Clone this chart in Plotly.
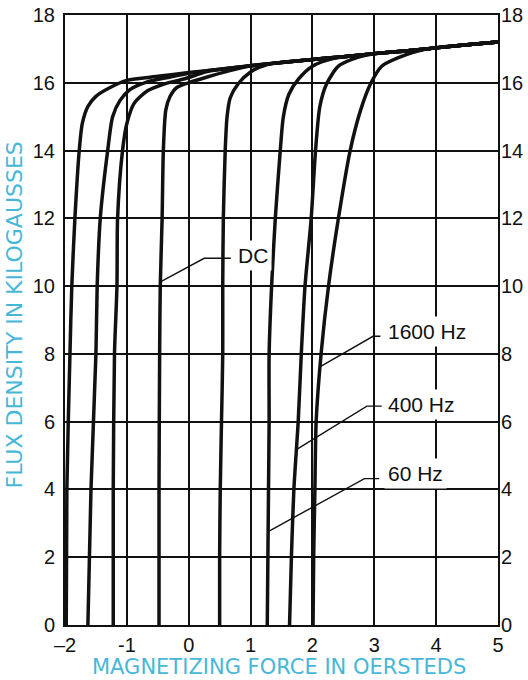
import plotly.graph_objects as go

# ---------------- data ----------------
# shared upper envelope (saturation line) all curves merge into
ENV_X = [-1.0, -0.5, 0.0, 0.5, 1.0, 1.5, 2.0, 2.5, 3.0, 3.5, 4.0, 4.5, 5.0]
ENV_Y = [16.07, 16.19, 16.3, 16.4, 16.5, 16.6, 16.69, 16.77, 16.86, 16.94, 17.03, 17.12, 17.2]

# left (descending) branches
L1600_X = [-1.98, -1.97, -1.92, -1.89, -1.84, -1.77, -1.72, -1.63, -1.5, -1.27, -1.0]
L1600_Y = [0, 4, 8, 10, 12, 14, 14.8, 15.3, 15.6, 15.86, 16.07]

L400_X = [-1.63, -1.58, -1.50, -1.48, -1.43, -1.31, -1.23, -1.11, -0.95, -0.68, -0.3, 0.0]
L400_Y = [0, 4, 8, 10, 12, 14, 15.0, 15.48, 15.8, 16.02, 16.17, 16.28]

L60_X = [-1.22, -1.22, -1.20, -1.16, -1.15, -1.07, -1.0, -0.88, -0.66, -0.39, -0.06, 0.3]
L60_Y = [0, 4, 8, 10, 12, 14, 14.8, 15.4, 15.77, 15.97, 16.12, 16.33]

LDC_X = [-0.48, -0.48, -0.47, -0.46, -0.43, -0.41, -0.37, -0.3, -0.2, 0.0, 0.3, 0.65]
LDC_Y = [0, 4, 8, 10, 12, 14, 15.2, 15.6, 15.85, 16.0, 16.17, 16.35]

# right (ascending) branches
RDC_X = [0.50, 0.50, 0.51, 0.53, 0.55, 0.55, 0.56, 0.59, 0.62, 0.67, 0.8, 1.0, 1.27]
RDC_Y = [0, 2, 4, 6, 8, 10, 12, 14, 15.0, 15.55, 15.97, 16.32, 16.54]

R60_X = [1.27, 1.28, 1.29, 1.30, 1.30, 1.34, 1.40, 1.48, 1.53, 1.62, 1.78, 2.0, 2.35]
R60_Y = [0, 2, 4, 6, 8, 10, 12, 14, 15.0, 15.66, 16.12, 16.49, 16.72]

R400_X = [1.63, 1.66, 1.70, 1.77, 1.82, 1.88, 1.98, 2.05, 2.12, 2.23, 2.42, 2.73, 3.04]
R400_Y = [0, 2, 4, 6, 8, 10, 12, 14, 15.3, 15.97, 16.49, 16.75, 16.87]

R1600_X = [2.01, 2.02, 2.04, 2.06, 2.14, 2.26, 2.42, 2.61, 2.78, 2.94, 3.12, 3.4, 3.82]
R1600_Y = [0, 2, 4, 6, 8, 10, 12, 14, 15.2, 15.97, 16.49, 16.75, 16.99]

CURVES = [
    (L1600_X, L1600_Y), (L400_X, L400_Y), (L60_X, L60_Y), (LDC_X, LDC_Y),
    (RDC_X, RDC_Y), (R60_X, R60_Y), (R400_X, R400_Y), (R1600_X, R1600_Y),
]

# leader lines to labels
DC_LEAD_X = [0.68, 0.25, -0.45]
DC_LEAD_Y = [10.82, 10.82, 10.13]
HZ1600_LEAD_X = [3.1, 2.98, 2.12]
HZ1600_LEAD_Y = [8.52, 8.52, 7.62]
HZ400_LEAD_X = [3.12, 2.88, 1.76]
HZ400_LEAD_Y = [6.46, 6.46, 5.2]
HZ60_LEAD_X = [3.08, 2.84, 1.27]
HZ60_LEAD_Y = [4.32, 4.32, 2.74]
LEADERS = [(DC_LEAD_X, DC_LEAD_Y), (HZ1600_LEAD_X, HZ1600_LEAD_Y),
           (HZ400_LEAD_X, HZ400_LEAD_Y), (HZ60_LEAD_X, HZ60_LEAD_Y)]

LABELS = ["DC", "1600 Hz", "400 Hz", "60 Hz"]
LABEL_X = [0.73, 3.15, 3.16, 3.16]
LABEL_Y = [10.9, 8.65, 6.5, 4.47]

X_TICKS = [-2, -1, 0, 1, 2, 3, 4, 5]
X_TICKTEXT = ["\u20132", "-1", "0", "1", "2", "3", "4", "5"]
Y_TICKS = [0, 2, 4, 6, 8, 10, 12, 14, 16, 18]

FONT = "Liberation Sans, Arial, Helvetica, sans-serif"
TITLE_FONT = "DejaVu Sans, Liberation Sans, sans-serif"
CYAN = "#47b7d8"

fig = go.Figure()

for cx, cy in CURVES:
    xs = list(cx)
    ys = list(cy)
    for ex, ey in zip(ENV_X, ENV_Y):
        if ex > xs[-1] + 0.25:
            xs.append(ex)
            ys.append(ey)
    fig.add_trace(go.Scatter(
        x=xs, y=ys, mode="lines",
        line=dict(color="#111111", width=3.5, shape="spline", smoothing=0.7),
        hoverinfo="skip", showlegend=False,
    ))

for lx, ly in LEADERS:
    fig.add_trace(go.Scatter(
        x=lx, y=ly, mode="lines",
        line=dict(color="#111111", width=1.4),
        hoverinfo="skip", showlegend=False,
    ))

# invisible trace to activate right axis
fig.add_trace(go.Scatter(x=[None], y=[None], yaxis="y2", showlegend=False))

for t, lx, ly in zip(LABELS, LABEL_X, LABEL_Y):
    fig.add_annotation(
        x=lx, y=ly, text=t, showarrow=False, xanchor="left", yanchor="middle",
        font=dict(family=FONT, size=21, color="#111111"),
        bgcolor="white", borderpad=3,
    )

fig.add_annotation(
    xref="paper", yref="paper", x=0.494, y=-0.069, text="MAGNETIZING FORCE IN OERSTEDS",
    showarrow=False, xanchor="center", yanchor="middle",
    font=dict(family=TITLE_FONT, size=21, color=CYAN),
)
fig.add_annotation(
    xref="paper", yref="paper", x=-0.117, y=0.508, text="FLUX DENSITY IN KILOGAUSSES",
    showarrow=False, xanchor="center", yanchor="middle", textangle=-90,
    font=dict(family=TITLE_FONT, size=22, color=CYAN),
)

axis_common = dict(showline=True, linecolor="#111111", linewidth=2,
                   showgrid=True, gridcolor="#111111", gridwidth=1.6,
                   zeroline=False, ticks="", automargin=False,
                   tickfont=dict(family=FONT, size=20, color="#111111"))

fig.update_layout(
    width=528, height=680,
    margin=dict(l=65, r=30, t=15, b=55),
    paper_bgcolor="white", plot_bgcolor="white",
    font=dict(family=FONT),
    xaxis=dict(range=[-2, 5], tickvals=X_TICKS, ticktext=X_TICKTEXT,
               mirror=True, ticklabelstandoff=1, **axis_common),
    yaxis=dict(range=[0, 18], tickvals=Y_TICKS, mirror=True,
               ticklabelstandoff=4, **axis_common),
    yaxis2=dict(range=[0, 18], tickvals=Y_TICKS, overlaying="y", side="right",
                showgrid=False, showline=False, zeroline=False, ticks="",
                automargin=False, ticklabelstandoff=2,
                tickfont=dict(family=FONT, size=20, color="#111111")),
    showlegend=False,
)

fig.write_html("out.html")
